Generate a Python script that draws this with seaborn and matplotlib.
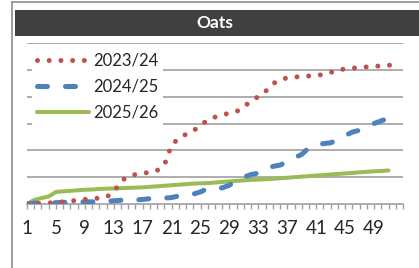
import numpy as np
import pandas as pd
import matplotlib
matplotlib.use("Agg")
import matplotlib.pyplot as plt
from matplotlib.patches import Rectangle
from matplotlib.lines import Line2D
import seaborn as sns

weeks = list(range(1, 53))
oats_2324 = [0.0, 0.01, 0.03, 0.04, 0.06, 0.08, 0.11, 0.14, 0.17, 0.20,
             0.22, 0.26, 0.45, 0.85, 1.03, 1.10, 1.15, 1.18, 1.25, 1.45,
             2.20, 2.45, 2.60, 2.72, 2.95, 3.12, 3.24, 3.33, 3.38, 3.45,
             3.62, 3.85, 4.00, 4.20, 4.48, 4.63, 4.70, 4.73, 4.75, 4.77,
             4.80, 4.82, 4.90, 5.00, 5.03, 5.06, 5.09, 5.11, 5.13, 5.15,
             5.17, 5.19]
oats_2425 = [0.0, 0.03, 0.05, 0.05, 0.05, 0.06, 0.07, 0.07, 0.08, 0.08,
             0.09, 0.10, 0.12, 0.14, 0.15, 0.15, 0.17, 0.20, 0.21, 0.22,
             0.24, 0.30, 0.33, 0.37, 0.45, 0.58, 0.59, 0.60, 0.70, 0.89,
             1.00, 1.10, 1.15, 1.25, 1.40, 1.45, 1.58, 1.72, 1.85, 2.10,
             2.22, 2.25, 2.28, 2.40, 2.55, 2.68, 2.75, 2.85, 3.00, 3.10,
             3.20, 3.30]
oats_2526 = [0.0, 0.15, 0.22, 0.28, 0.45, 0.47, 0.49, 0.51, 0.53, 0.54,
             0.56, 0.57, 0.58, 0.59, 0.60, 0.61, 0.62, 0.64, 0.66, 0.68,
             0.70, 0.72, 0.74, 0.76, 0.77, 0.78, 0.80, 0.82, 0.84, 0.86,
             0.88, 0.90, 0.91, 0.92, 0.94, 0.96, 0.98, 1.00, 1.02, 1.04,
             1.06, 1.08, 1.10, 1.12, 1.14, 1.16, 1.18, 1.20, 1.22, 1.23,
             1.25, np.nan]
season_names = ["2023/24", "2024/25", "2025/26"]

sns.set_style("white")
plt.rcParams["font.family"] = ["Lato", "DejaVu Sans"]

W, H = 419, 268
fig = plt.figure(figsize=(W / 100, H / 100), dpi=100)

# outer frame and title bar
fig.add_artist(Line2D([12 / W, 12 / W], [0, 1 - 2 / H], color="#8c8c8c", lw=1.2))
fig.add_artist(Line2D([12 / W, 1], [1 - 2 / H, 1 - 2 / H], color="#8c8c8c", lw=1.2))
fig.add_artist(Rectangle((15 / W, 1 - 36 / H), 1 - 15 / W, 26 / H,
                         facecolor="#404040", edgecolor="none"))
fig.text(215 / W, 1 - 23 / H, "Oats", color="white", fontsize=12.5,
         fontweight="bold", ha="center", va="center")

ax = fig.add_axes([27 / W, 1 - 204 / H, 376 / W, 161 / H])

df = pd.DataFrame({"week": weeks, "a": oats_2324, "b": oats_2425, "c": oats_2526})

sns.lineplot(data=df, x="week", y="c", ax=ax, color="#9BBB59", lw=2.9,
             solid_capstyle="round", label=season_names[2], zorder=3)
sns.lineplot(data=df, x="week", y="b", ax=ax, color="#4F81BD", lw=3.6,
             linestyle=(0, (2.0, 3.6)), dash_capstyle="round",
             label=season_names[1], zorder=4)
sns.lineplot(data=df, x="week", y="a", ax=ax, color="#C0504D", lw=3.6,
             linestyle=(0, (0.001, 2.34)), dash_capstyle="round",
             label=season_names[0], zorder=5)

ax.set_xlim(1, 53)
ax.set_ylim(0, 6)
ax.set_yticks(range(1, 7))
ax.yaxis.grid(True, color="#a0a0a0", lw=1.2)
ax.set_axisbelow(True)
ax.tick_params(axis="y", left=False, labelleft=False)
ax.set_xticks(range(1, 54))
ax.set_xticklabels([str(w) if (w - 1) % 4 == 0 and w < 53 else "" for w in range(1, 54)])
ax.tick_params(axis="x", bottom=True, direction="out", length=3.5, width=1,
               color="#a0a0a0", labelsize=13.5, pad=8)
for s in ["top", "right", "left"]:
    ax.spines[s].set_visible(False)
ax.spines["bottom"].set_color("#a0a0a0")
ax.spines["bottom"].set_linewidth(1.2)
ax.set_xlabel("")
ax.set_ylabel("")

h, l = ax.get_legend_handles_labels()
order = [2, 1, 0]
leg = ax.legend([h[i] for i in order], [l[i] for i in order], loc="upper left",
                bbox_to_anchor=(0, 1.0), frameon=True, facecolor="white",
                edgecolor="none", framealpha=1, fontsize=12, handlelength=3.1,
                labelspacing=0.6, handletextpad=0.25, borderpad=0.3,
                borderaxespad=0.3, fancybox=False)

fig.savefig("out.png", dpi=100)
